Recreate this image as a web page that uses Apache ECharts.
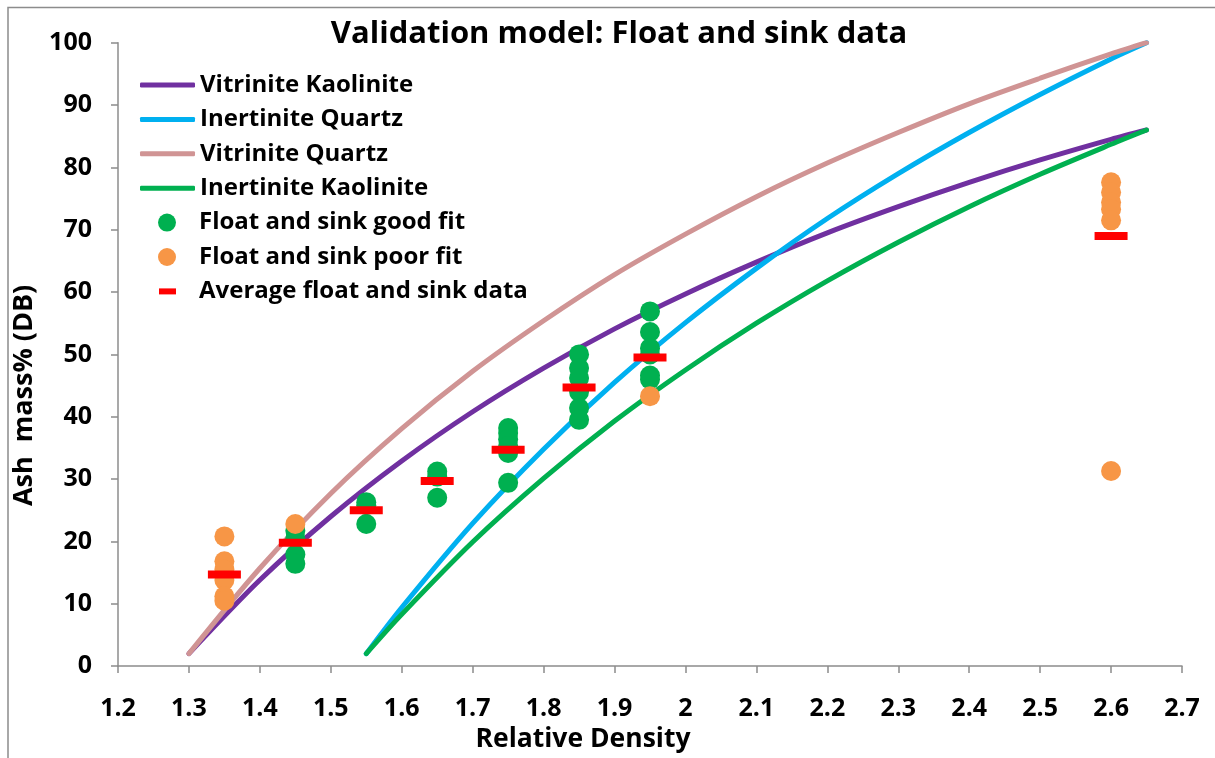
<!DOCTYPE html>
<html>
<head>
<meta charset="utf-8">
<title>Validation model: Float and sink data</title>
<script src="https://cdn.jsdelivr.net/npm/echarts@6/dist/echarts.min.js"></script>
<style>
  html, body { margin: 0; padding: 0; background: #ffffff; }
  #chart { width: 1215px; height: 758px; }
</style>
</head>
<body>
<div id="chart"></div>
<script>
// Relative density grid for the model curves
const vitriniteDensity = [1.3, 1.4, 1.5, 1.6, 1.7, 1.8, 1.9, 2.0, 2.1, 2.2, 2.3, 2.4, 2.5, 2.6, 2.65];
const inertiniteDensity = [1.55, 1.6, 1.7, 1.8, 1.9, 2.0, 2.1, 2.2, 2.3, 2.4, 2.5, 2.6, 2.65];

// Model ash mass% (DB) curves
const vitriniteKaolinite = [2, 13.8, 24.0, 32.9, 40.8, 47.8, 54.1, 59.7, 64.8, 69.5, 73.7, 77.6, 81.2, 84.5, 86];
const vitriniteQuartz    = [2, 15.7, 27.7, 38.1, 47.3, 55.4, 62.8, 69.3, 75.3, 80.7, 85.6, 90.2, 94.3, 98.2, 100];
const inertiniteQuartz   = [2, 9.4, 22.9, 34.8, 45.5, 55.1, 63.8, 71.8, 79.0, 85.6, 91.7, 97.4, 100];
const inertiniteKaolinite = [2, 8.3, 19.9, 30.1, 39.3, 47.5, 55.0, 61.8, 68.0, 73.7, 78.9, 83.7, 86];

// Float and sink fractions: [relative density, ash mass%]
const goodFit = [
  [1.45, 21.7], [1.45, 20.5], [1.45, 17.9], [1.45, 16.4],
  [1.55, 26.3], [1.55, 25.8], [1.55, 22.8],
  [1.65, 31.2], [1.65, 30.4], [1.65, 27.0],
  [1.75, 38.2], [1.75, 37.4], [1.75, 36.4], [1.75, 35.3], [1.75, 34.2], [1.75, 29.4],
  [1.85, 50.0], [1.85, 47.8], [1.85, 46.2], [1.85, 44.0], [1.85, 41.4], [1.85, 39.5],
  [1.95, 56.9], [1.95, 53.6], [1.95, 51.0], [1.95, 50.0], [1.95, 46.6], [1.95, 46.0]
];
const poorFit = [
  [1.35, 20.8], [1.35, 16.8], [1.35, 15.5], [1.35, 13.8], [1.35, 11.2], [1.35, 10.5],
  [1.45, 22.8],
  [1.95, 43.3],
  [2.6, 77.6], [2.6, 76.0], [2.6, 74.4], [2.6, 73.3], [2.6, 71.5], [2.6, 31.3]
];
const averageData = [
  [1.35, 14.7], [1.45, 19.8], [1.55, 25.0], [1.65, 29.7],
  [1.75, 34.7], [1.85, 44.7], [1.95, 49.5], [2.6, 69.0]
];

// Legend entries, top to bottom
const lineNames = ['Vitrinite Kaolinite', 'Inertinite Quartz', 'Vitrinite Quartz', 'Inertinite Kaolinite'];
const dotNames = ['Float and sink good fit', 'Float and sink poor fit'];
const averageName = 'Average float and sink data';

const pair = (xs, ys) => xs.map((x, i) => [x, ys[i]]);

const FONT = 'Open Sans';
const LEGEND_FONT = 24;
const ROW_H = 30;
const ROW_START = 85;     // centre of the first legend row
const ROW_STEP = 34.4;

const legendText = pad => ({
  fontFamily: FONT, fontWeight: 'bold', fontSize: LEGEND_FONT, color: '#000',
  lineHeight: ROW_H, padding: pad
});

const legends = [];
lineNames.forEach((n, i) => legends.push({
  data: [{ name: n, icon: 'roundRect' }],
  left: 140,
  top: ROW_START + i * ROW_STEP - ROW_H / 2,
  padding: 0,
  itemWidth: 55,
  itemHeight: 5,
  itemGap: 0,
  textStyle: legendText([0, 0, 0, 0])
}));
dotNames.forEach((n, i) => legends.push({
  data: [{ name: n, icon: 'circle' }],
  left: 158,
  top: ROW_START + (4 + i) * ROW_STEP - ROW_H / 2,
  padding: 0,
  itemWidth: 18,
  itemHeight: 18,
  itemGap: 0,
  textStyle: legendText([0, 0, 0, 18])
}));
legends.push({
  data: [{ name: averageName, icon: 'rect' }],
  left: 159,
  top: ROW_START + 6 * ROW_STEP - ROW_H / 2,
  padding: 0,
  itemWidth: 17,
  itemHeight: 6,
  itemGap: 0,
  textStyle: legendText([0, 0, 0, 18])
});

const chart = echarts.init(document.getElementById('chart'), null, { renderer: 'canvas' });

const lineSeries = (name, xs, ys, color) => ({
  name: name,
  type: 'line',
  data: pair(xs, ys),
  smooth: 0.3,
  symbol: 'none',
  lineStyle: { color: color, width: 5, cap: 'round' },
  itemStyle: { color: color },
  z: 2
});

chart.setOption({
  animation: false,
  backgroundColor: '#ffffff',
  title: {
    text: 'Validation model: Float and sink data',
    left: 614,
    top: 14,
    textAlign: 'center',
    textStyle: { fontFamily: FONT, fontWeight: 'bold', fontSize: 31, color: '#000' }
  },
  grid: { left: 118, right: 33, top: 42.7, bottom: 89, containLabel: false },
  legend: legends,
  xAxis: {
    type: 'value',
    min: 1.2,
    max: 2.7,
    interval: 0.1,
    name: 'Relative Density',
    nameLocation: 'middle',
    nameGap: 58,
    nameTextStyle: { fontFamily: FONT, fontWeight: 'bold', fontSize: 26.5, color: '#000', padding: [0, 134, 0, 0] },
    axisLine: { lineStyle: { color: '#8c8c8c', width: 1.5 } },
    axisTick: { show: true, length: 7, lineStyle: { color: '#8c8c8c', width: 1.5 } },
    axisLabel: {
      margin: 30,
      fontFamily: FONT, fontWeight: 'bold', fontSize: 25, color: '#000',
      formatter: v => String(parseFloat(v.toFixed(1)))
    },
    splitLine: { show: false }
  },
  yAxis: {
    type: 'value',
    min: 0,
    max: 100,
    interval: 10,
    name: 'Ash  mass% (DB)',
    nameLocation: 'middle',
    nameGap: 58,
    nameRotate: 90,
    nameTextStyle: { fontFamily: FONT, fontWeight: 'bold', fontSize: 27, color: '#000', padding: [0, 82, 0, 0] },
    axisLine: { show: true, lineStyle: { color: '#8c8c8c', width: 1.5 } },
    axisTick: { show: true, length: 7, lineStyle: { color: '#8c8c8c', width: 1.5 } },
    axisLabel: { margin: 26, fontFamily: FONT, fontWeight: 'bold', fontSize: 25, color: '#000' },
    splitLine: { show: false }
  },
  graphic: [
    {
      type: 'rect',
      silent: true,
      shape: { x: 8, y: 7.5, width: 1400, height: 1000 },
      style: { fill: 'none', stroke: '#8c8c8c', lineWidth: 1.5 }
    }
  ],
  series: [
    lineSeries(lineNames[0], vitriniteDensity, vitriniteKaolinite, '#7030A0'),
    lineSeries(lineNames[1], inertiniteDensity, inertiniteQuartz, '#00B0F0'),
    lineSeries(lineNames[2], vitriniteDensity, vitriniteQuartz, '#D09494'),
    lineSeries(lineNames[3], inertiniteDensity, inertiniteKaolinite, '#00B050'),
    {
      name: dotNames[0],
      type: 'scatter',
      data: goodFit,
      symbol: 'circle',
      symbolSize: 20,
      itemStyle: { color: '#00B050', opacity: 1 },
      z: 3
    },
    {
      name: dotNames[1],
      type: 'scatter',
      data: poorFit,
      symbol: 'circle',
      symbolSize: 20,
      itemStyle: { color: '#F79646', opacity: 1 },
      z: 3
    },
    {
      name: averageName,
      type: 'scatter',
      data: averageData,
      symbol: 'rect',
      symbolSize: [33, 8],
      itemStyle: { color: '#FF0000', opacity: 1 },
      z: 4
    }
  ]
});
</script>
</body>
</html>
